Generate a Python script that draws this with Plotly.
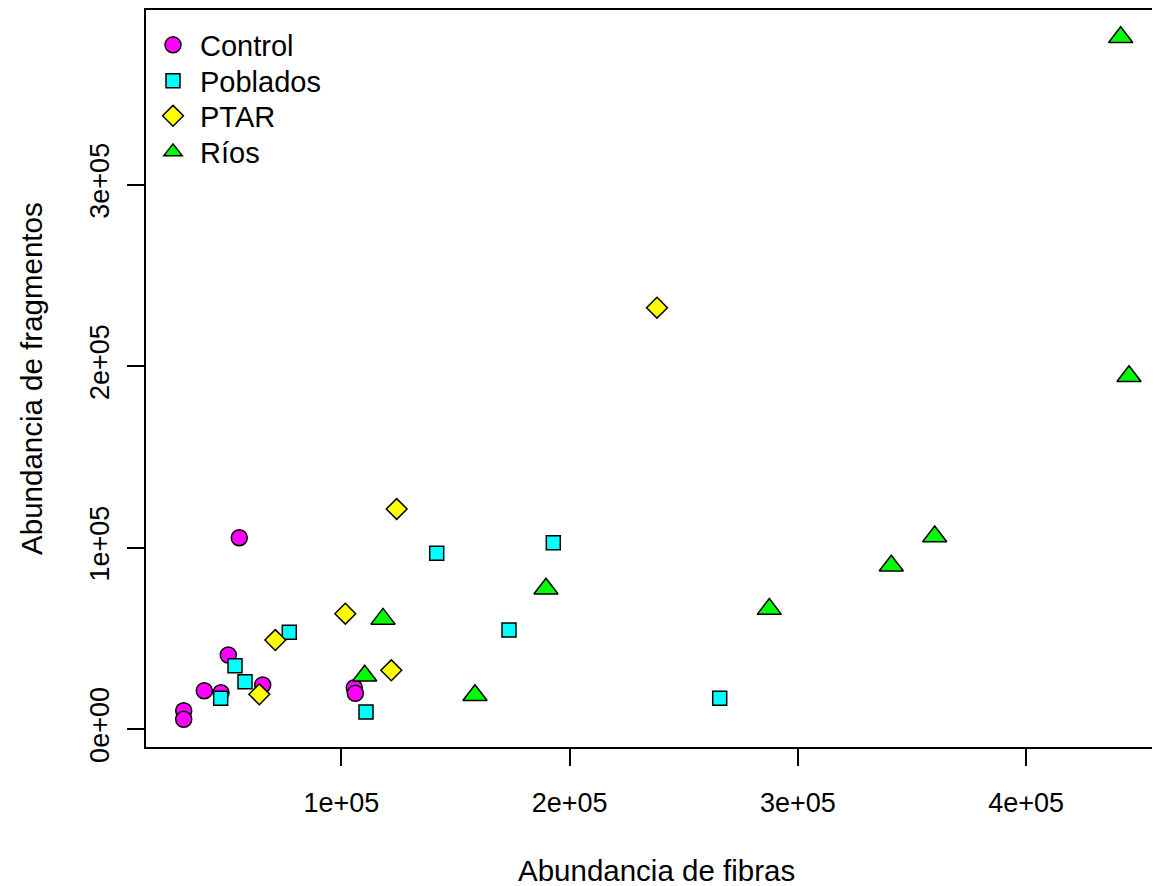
import plotly.graph_objects as go

# ---- data ----
control_x = [55320, 50500, 39990, 47310, 65570, 30970, 30970, 105700, 106130]
control_y = [105460, 40790, 21110, 20010, 24260, 10090, 5350, 22770, 19680]

poblados_x = [141790, 77220, 53440, 57820, 47170, 110820, 192860, 173460, 265750]
poblados_y = [96860, 53310, 34900, 26080, 16920, 9370, 102700, 54580, 16920]

ptar_x = [124260, 101750, 71090, 121900, 64080, 238280]
ptar_y = [121280, 63560, 49060, 32360, 19130, 232260]

rios_x = [118270, 110250, 158560, 189660, 287470, 340910, 359920, 441390, 445030]
rios_y = [60700, 29330, 18580, 77340, 66100, 89970, 106120, 381320, 194490]

x_tickvals = [100000, 200000, 300000, 400000]
x_ticktext = ["1e+05", "2e+05", "3e+05", "4e+05"]
y_tickvals = [0, 100000, 200000, 300000]
y_ticktext = ["0e+00", "1e+05", "2e+05", "3e+05"]

FONT = "Liberation Sans, Arial, Helvetica, sans-serif"

series = [
    ("Control", control_x, control_y, "circle", "#FF00FF", 16),
    ("Poblados", poblados_x, poblados_y, "square", "#00FFFF", 14),
    ("PTAR", ptar_x, ptar_y, "diamond", "#FFFF00", 16),
    ("Ríos", rios_x, rios_y, "triangle-up", "#00FF00", 21),
]
legend_ids = ["legend", "legend2", "legend3", "legend4"]
legend_rows = [0.9525, 0.9037, 0.8562, 0.8073]

fig = go.Figure()
for (name, xs, ys, sym, col, sz), lid in zip(series, legend_ids):
    fig.add_trace(go.Scatter(
        x=xs, y=ys, mode="markers", name=name, legend=lid,
        marker=dict(symbol=sym, color=col, size=sz,
                    line=dict(color="black", width=1.5)),
    ))

legend_layout = {}
for lid, ly in zip(legend_ids, legend_rows):
    legend_layout[lid] = dict(
        x=0.0, y=ly, xanchor="left", yanchor="middle",
        itemwidth=44, font=dict(size=29, family=FONT, color="black"),
        bgcolor="rgba(0,0,0,0)", borderwidth=0)

fig.update_layout(
    width=1152, height=878,
    margin=dict(l=138, r=0, t=2, b=139),
    paper_bgcolor="white", plot_bgcolor="white",
    font=dict(family=FONT, color="black", size=27),
    showlegend=True,
    xaxis=dict(range=[14455, 458607], showgrid=False, zeroline=False,
               showline=True, linecolor="black", linewidth=2, mirror=True,
               ticks="outside", ticklen=17, tickwidth=2, tickcolor="black",
               tickvals=x_tickvals, ticktext=x_ticktext, ticklabelstandoff=14,
               tickfont=dict(size=27, family=FONT)),
    yaxis=dict(range=[-9923, 396363], showgrid=False, zeroline=False,
               showline=True, linecolor="black", linewidth=2, mirror=False,
               ticks="outside", ticklen=17, tickwidth=2, tickcolor="black",
               tickvals=y_tickvals, ticktext=y_ticktext, tickangle=-90,
               ticklabelstandoff=7,
               tickfont=dict(size=27, family=FONT)),
    annotations=[
        dict(text="Abundancia de fibras", xref="paper", yref="paper",
             x=0.503, y=-0.167, xanchor="center", yanchor="middle",
             showarrow=False, font=dict(size=29.5, family=FONT)),
        dict(text="Abundancia de fragmentos", xref="paper", yref="paper",
             x=-0.113, y=0.5, xanchor="center", yanchor="middle",
             textangle=-90, showarrow=False, font=dict(size=29.5, family=FONT)),
    ],
    **legend_layout,
)

fig.write_html("out.html")
